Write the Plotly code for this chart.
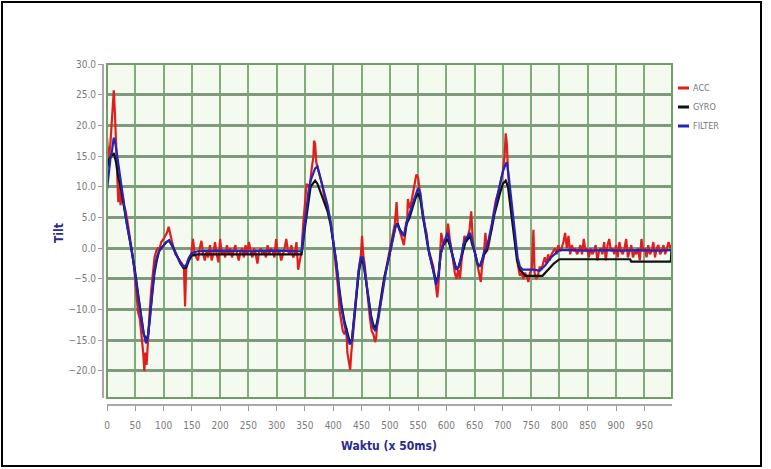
import plotly.graph_objects as go

# ---------------- data ----------------
acc_x = [0,3,6,9,12,14,16,18,20,22,24,26,28,30,33,36,40,44,48,52,55,58,61,64,66,68,70,72,75,78,81,84,87,90,93,96,
         100,103,106,109,112,115,118,121,125,129,133,136,138,140,143,146,149,152,155,158,161,164,167,170,173,176,179,
         182,185,188,191,194,197,200,203,206,209,212,215,218,221,224,227,230,233,236,239,242,245,248,251,254,257,260,
         263,266,269,272,275,278,281,284,287,290,293,296,299,302,305,308,311,314,317,320,323,326,329,332,335,338,341,
         344,347,350,353,356,359,362,365,366,368,370,373,376,380,384,388,392,396,400,404,408,411,414,417,420,423,425,
         427,430,432,434,437,440,443,446,449,451,453,456,459,462,465,468,471,474,476,478,481,484,487,490,494,497,500,
         503,506,509,512,514,517,520,523,525,528,531,532,535,538,541,544,547,550,553,556,559,562,565,568,571,574,577,
         580,582,584,586,588,591,594,597,600,603,606,609,612,615,618,621,624,627,630,632,635,638,641,644,647,650,653,
         656,659,661,663,666,669,672,675,678,681,684,688,692,696,700,703,705,707,709,712,715,718,721,724,727,730,733,
         736,739,742,745,748,751,754,756,759,762,765,768,771,774,777,780,783,786,789,792,795,798,801,804,807,810,813,
         816,819,822,825,828,831,834,837,840,843,846,849,852,855,858,861,864,867,870,873,876,879,882,885,888,891,894,
         897,900,903,906,909,912,915,918,921,924,927,930,933,936,939,942,945,948,951,954,957,960,963,966,969,972,975,
         978,981,984,987,990,993,996,998]
acc_y = [18,14,17,21,25.7,22,16,12,7.5,10,7,9,8.5,7,6,4.5,2,0,-3,-7.5,-10.5,-11.5,-14,-17,-20,-17,-19,-15,-11,-7,-4,-1.5,-0.5,0,0,1,
         1.5,2,2.5,3.5,2,1,0,-1,-1.5,-2,-2.5,-3,-9.5,-3,-2,-1.5,-1,1.5,-1,-1.5,-2,0,1.2,-1,-2,-0.5,-1.5,
         0.5,-2,-1,1,-1,-2.3,1.5,-1,-0.5,-1.5,0.5,-1,0,-1.5,-0.5,0.5,-1,-2,-0.5,0,-1.5,0.5,-1,1,-0.5,-1.5,0,
         -1,-2.5,-0.5,0,-1,-0.5,-1.5,0.5,-1,0,-0.5,-1.5,1.5,-1,-0.5,-2,-1,0,1.5,-0.5,-1,0.5,-1.5,-1,1,-3.5,-2,
         -0.5,4,8,10.5,10,10.5,13,15,17.5,17,14,13,12,10.5,8.5,7,5.5,4,1,-2,-6,-10,-12,-13.5,-14,-13,-17,
         -18,-19.8,-17,-15,-11,-8,-5,-3,-1,2,-1,-3,-6,-9,-11.5,-13.5,-14,-15.3,-14.5,-12,-10,-8.5,-6.5,-5,-3,-1.5,-0.5,
         1,3,4,7.5,4,3,2,1,0.5,3,5,8,6.5,7.5,9,11,12,11.5,9,7,5,3.5,2.5,0,-1,-2,-3,
         -5,-7,-8,-6,-2,2.5,1,0.5,1.5,4,1.5,0,-2,-4,-5,-3.5,-5,-2,0,2,1,2,3,6,1,-0.5,-2,
         -3,-4.5,-5.5,-3,-1.5,2.5,-0.5,0.5,2,4,6,8,9,11,12.5,15,18.7,17,12.5,9,7,4.5,1.5,-1,-3,-4.5,-4,
         -5,-4,-4.5,-5.5,-4,-3.5,3,-4,-5,-4.5,-3,-3.5,-2.5,-1.5,-2.5,-1,-2,-1,-0.5,0,-1,0.5,-0.5,0,1,2.5,0,
         2,-1,0.5,-0.5,0,-1,-0.5,0.5,-1,1.5,-0.5,0,-1.5,0,-1,-0.5,0.5,-2,-0.5,0,-1,1,-2,0.5,1.5,-0.5,0,
         -1,0.5,-1.5,1,-0.5,-1,0,1.5,-1.5,-0.5,0.5,-1.5,-0.5,-1,0,-2,1.5,-0.5,0,-1.5,0.5,-1,-0.5,1,-1.5,0,0.5,
         -1,-0.5,0.5,-1,0,1,0,0.5]

gyro_x = [0,4,8,12,16,20,25,30,35,40,45,50,55,60,65,70,73,76,80,84,88,92,96,100,105,110,115,120,125,130,135,140,145,
          150,160,200,250,300,340,344,348,352,356,360,364,368,372,376,380,385,390,395,400,405,410,415,420,425,430,433,
          437,441,445,449,452,455,459,463,467,471,475,479,483,487,491,495,500,505,510,514,518,522,526,530,535,540,545,
          550,554,558,562,566,570,574,578,582,586,590,594,598,602,606,610,614,618,622,626,630,634,638,642,646,650,655,
          659,663,667,671,675,680,685,690,695,700,705,709,713,717,721,725,730,735,740,770,780,790,800,850,900,925,927,
          997,998]
gyro_y = [13,14.5,15,15.5,14,11.5,9.5,6.5,4,1.5,-1,-4,-7.5,-11,-14,-15,-14,-11,-7,-4,-2,-0.5,0,0.5,1,1.2,0.5,-0.5,-1.5,-2.5,-3.2,-3.2,-2,
          -1.2,-1,-1,-1,-1,-1,-1,2,5,8,10,10.5,11,10.5,9.5,8.5,7.5,6,4,1,-2,-6,-9.5,-12,-14,-15.5,-15,
          -11,-7,-4,-2,-2,-3.5,-6,-8.5,-11,-12.5,-13,-11.5,-9,-6.5,-4.5,-3,-1,1.5,3.5,4,3,2.5,2,4,5,6.5,8,
          9,8,5.5,3,1,-1,-2.5,-4,-5.5,-4.5,-1,0.5,1,1.5,0.5,-1,-2.5,-3.5,-3,-1.5,0,1,1.5,2,0.5,-0.5,-2.5,
          -3,-2,-1,-0.5,1,3,5.5,7.5,9,10.5,11,10,7,4,1,-2,-3.5,-4,-4.5,-4.5,-3.5,-2.5,-1.8,-1.8,-1.8,-1.8,-2.2,
          -2.2,-0.3]

filt_x = [0,3,6,9,12,15,18,21,25,30,35,40,45,50,55,60,65,69,72,76,80,84,88,92,96,100,105,110,115,120,125,130,135,140,
          145,150,160,200,250,300,340,344,348,352,356,360,364,368,372,376,380,385,390,395,400,405,410,415,420,425,429,
          433,437,441,445,449,452,455,459,463,467,471,475,479,483,487,491,495,500,505,510,513,517,521,525,529,534,540,
          545,550,554,558,562,566,570,574,578,582,586,590,594,598,602,606,610,614,618,622,626,630,634,638,642,646,650,
          655,659,663,667,671,675,680,685,690,695,700,704,707,710,714,718,722,726,730,735,744,755,765,775,785,795,800,
          820,850,880,910,940,970,998]
filt_y = [9.5,12.5,14.5,16,18,17,15,12.5,10,7,4,1.5,-1,-4.5,-8,-11,-14,-15.5,-14.5,-11.5,-7,-3.5,-1.5,-0.5,0,0.5,1,1.3,0.5,-0.5,-1.5,-2.5,-3,-2.8,
          -1.5,-0.8,-0.5,-0.4,-0.5,-0.4,-0.5,-0.5,2.5,6,9,11,12,13,13.3,12,10.5,9,7,4.5,1.5,-2,-6.5,-10,-12.5,-14.5,-15.7,
          -15,-11.5,-7,-3.5,-1.5,-1.5,-3,-6,-9,-11.5,-13,-13.5,-12,-9.5,-7,-5,-3,-1,1.5,3.5,4,3,2.5,2,4,5.5,7,
          8.5,9.8,9,6,3.5,1.5,-1,-2.5,-4.5,-6,-4.5,-1,0.5,1.5,2.5,1,-1,-2.5,-3.5,-3,-1.5,0.5,1.5,2,2.5,1,-0.5,
          -2.5,-3,-2,-0.5,0,1.5,3.5,6,8.5,10.5,12.5,13.5,14,12,8.5,5,1.5,-1.5,-3,-3.5,-3.5,-3.5,-3.7,-2.8,-1.5,-0.6,-0.3,
          -0.3,-0.4,-0.3,-0.4,-0.3,-0.4,-0.3]

series_names = ["ACC", "GYRO", "FILTER"]
series_colors = ["#e01e1e", "#111111", "#2424b8"]
x_ticks = list(range(0, 1000, 50))
y_ticks = [30, 25, 20, 15, 10, 5, 0, -5, -10, -15, -20]

# ---------------- figure ----------------
W, H = 771, 469
L, R, T, B = 103, 99, 64, 64          # paper area: x 103..672, y 64..405
PW, PH = W - L - R, H - T - B

def px(xpix):
    return (xpix - L) / PW

def py(ypix):
    return (H - B - ypix) / PH

narrow = "DejaVu Sans Condensed, Liberation Sans Narrow, Arial Narrow, Liberation Sans, Arial, sans-serif"

fig = go.Figure()
for xs, ys, name, col in zip([acc_x, gyro_x, filt_x], [acc_y, gyro_y, filt_y], series_names, series_colors):
    fig.add_trace(go.Scatter(x=xs, y=ys, mode="lines", name=name,
                             line=dict(color=col, width=2.2), showlegend=False))

fig.update_layout(
    width=W, height=H,
    margin=dict(l=L, r=R, t=T, b=B, pad=0),
    paper_bgcolor="white",
    plot_bgcolor="#f4faef",
    font=dict(family=narrow, size=10, color="#7a7a7a"),
    xaxis=dict(range=[0, 999], domain=[px(107), 1], anchor="free", position=0,
               tickvals=x_ticks, ticks="outside", ticklen=5, tickwidth=1, tickcolor="#9a9a9a",
               showline=True, linecolor="#a8a8a8", linewidth=2,
               showgrid=True, gridcolor="#7fae78", gridwidth=1.5, zeroline=False,
               ticklabelstandoff=6, tickfont=dict(size=10, color="#7a7a7a")),
    yaxis=dict(range=[-24.4, 30], domain=[py(398), 1], anchor="free", position=0,
               tickvals=y_ticks, tickformat=".1f", ticks="outside", ticklen=4, tickwidth=1,
               tickcolor="#9a9a9a", showline=True, linecolor="#a8a8a8", linewidth=2,
               showgrid=True, gridcolor="#7e9c7c", gridwidth=2.5, zeroline=False,
               tickfont=dict(size=10, color="#7a7a7a")),
)

# plot frame
fig.add_shape(type="rect", xref="x domain", yref="y domain", x0=0, x1=1, y0=0, y1=1,
              line=dict(color="#6f9f66", width=2), fillcolor="rgba(0,0,0,0)", layer="above")
# outer black frame
fig.add_shape(type="rect", xref="paper", yref="paper", x0=px(2), x1=px(761), y0=py(466), y1=py(2),
              line=dict(color="black", width=2), fillcolor="rgba(0,0,0,0)")

# axis titles
fig.add_annotation(text="<b>Waktu (x 50ms)</b>", xref="paper", yref="paper", x=px(389), y=py(446),
                   xanchor="center", yanchor="middle",
                   showarrow=False, font=dict(family=narrow, size=12, color="#2a2a90"))
fig.add_annotation(text="<b>Tilt</b>", xref="paper", yref="paper", x=px(59), y=py(233),
                   xanchor="center", yanchor="middle",
                   showarrow=False, textangle=-90, font=dict(family=narrow, size=12, color="#2a2a90"))

# legend
for i, (name, col) in enumerate(zip(series_names, series_colors)):
    yl = 88 + 19 * i
    fig.add_shape(type="line", xref="paper", yref="paper", x0=px(678), x1=px(689), y0=py(yl), y1=py(yl),
                  line=dict(color=col, width=3))
    fig.add_annotation(text=name, xref="paper", yref="paper", x=px(691), y=py(yl),
                       xanchor="left", yanchor="middle",
                       showarrow=False, font=dict(family=narrow, size=9, color="#777777"))

fig.write_html("out.html", config={"displayModeBar": False},
               post_script="document.body.style.margin='0';document.body.style.overflow='hidden';")
